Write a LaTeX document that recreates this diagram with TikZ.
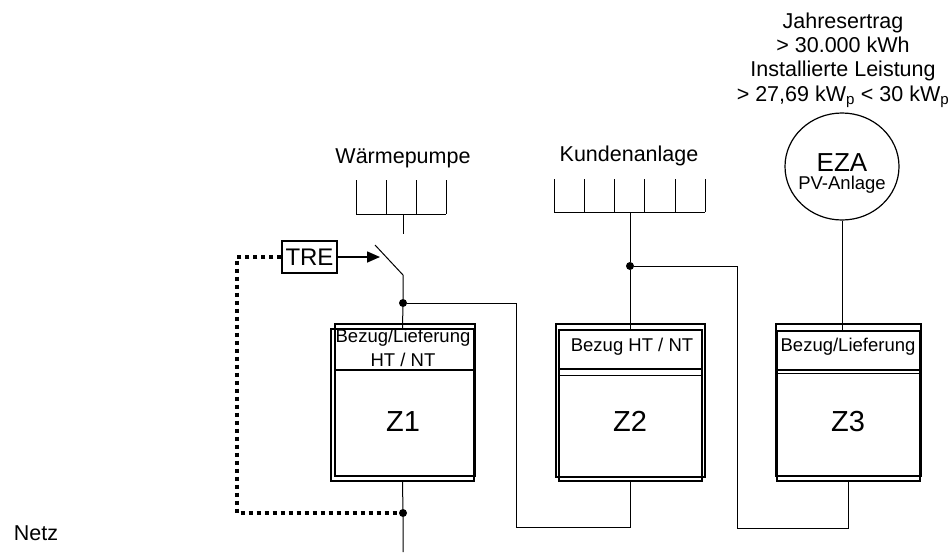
\documentclass[tikz,border=0pt]{standalone}
\usepackage{fontspec}
\setmainfont{Liberation Sans}
\usepackage{tikz}
\usetikzlibrary{positioning,shapes.geometric,arrows.meta}
\def\normaltext{\fontsize{18.5}{24.3}\selectfont}
\def\labeltext{\fontsize{21.5}{24.3}\selectfont}
\def\bigtext{\fontsize{29}{30}\selectfont}
\tikzset{
	wire/.style={line width=1pt},
	meter/.style={draw,line width=1.6pt,minimum width=143pt,inner sep=0pt},
	frame/.style={line width=1.6pt},
	jdot/.style={circle,fill,inner sep=0pt,minimum size=8pt},
	lbl/.style={inner sep=0pt,font=\normaltext,align=center},
	toplbl/.style={inner sep=0pt,font=\labeltext,align=center},
	ztext/.style={inner sep=0pt,font=\bigtext,anchor=base},
	ctrl/.style={line width=4pt,dash pattern=on 4pt off 4pt}
}

\begin{document}
\begin{tikzpicture}[x=1pt,y=-1pt]
				\useasboundingbox (0,0) rectangle (949,552);
				
				%zaehler
				\node[meter,minimum height=152pt] (z1) at (402.5,405) {};
				\draw[frame] ([shift={(5,-4)}]z1.north west) rectangle ([shift={(0,-6)}]z1.south east);
				\draw[frame] (336,370) -- (474,370);
				\node[lbl] (z1a) at (403,338) {Bezug/Lieferung};
				\node[lbl] (z1b) at (403,360) {HT / NT};
				\node[ztext] (z1t) at (403,431) {Z1};
				
				\node[meter,minimum height=151pt] (z2) at (630.5,405.5) {};
				\draw[frame] ([shift={(-2,-5)}]z2.north west) rectangle ([shift={(2,-5)}]z2.south east);
				\draw[frame] (559,369) -- (702,369);
				\draw[wire] (559,375) -- (702,375);
				\node[lbl] (z2a) at (632,347) {Bezug HT / NT};
				\node[ztext] (z2t) at (630,431) {Z2};
				
				\node[meter,minimum height=150pt] (z3) at (848.5,406) {};
				\draw[frame] ([shift={(0,-6)}]z3.north west) rectangle ([shift={(0,-6)}]z3.south east);
				\draw[frame] (777,370) -- (920,370);
				\draw[wire] (777,373) -- (920,373);
				\node[lbl] (z3a) at (848,347) {Bezug/Lieferung};
				\node[ztext] (z3t) at (848,431) {Z3};
				
				%verbraucher und erzeuger
				\node[toplbl] (wp) at (403,158) {Wärmepumpe};
				\draw[wire] (356,214) -- (446,214);
				\foreach \x in {356,386,416,446}
					\draw[wire] (\x,180) -- (\x,214);
				\coordinate (wpstem) at (403,214);
				\coordinate (swtop) at (403,234);
				\coordinate (swA) at (375,245);
				\coordinate (swB) at (403,275);
				
				\node[toplbl] (ka) at (629,156) {Kundenanlage};
				\draw[wire] (554,212) -- (705,212);
				\foreach \x in {554,584,614,644,675,705}
					\draw[wire] (\x,179) -- (\x,212);
				\coordinate (kastem) at (630,212);
				
				\node[draw,line width=1.2pt,ellipse,minimum width=114pt,minimum height=107pt] (eza) at (842,166.5) {};
				\node[inner sep=0pt,font=\fontsize{26}{28}\selectfont] (ezat) at (842,163) {EZA};
				\node[lbl] (pv) at (842,185) {PV-Anlage};
				\node[toplbl] (ertrag) at (843,60) {Jahresertrag\\ > 30.000 kWh\\ Installierte Leistung\\ > 27,69 kW\textsubscript{p} < 30 kW\textsubscript{p}};
				
				\node[toplbl] (netz) at (36,533) {Netz};
				
				%leitungen
				\node[jdot] (d1) at (403,303) {};
				\node[jdot] (d2) at (630,266) {};
				\node[jdot] (d3) at (403,513) {};
				\coordinate (netzend) at (403,552);
				
				\draw[wire] (wpstem) -- (swtop);
				\draw[wire] (swA) -- (swB) -- (d1) -- (z1.north);
				\draw[wire] (d1) -| (516,527) -| (z2.south);
				\draw[wire] (kastem) -- (d2) -- (d2 |- z2.north);
				\draw[wire] (d2) -| (737,528) -| (z3.south);
				\draw[wire] (eza.south) -- (eza.south |- z3.north);
				\draw[wire] (z1.south) -- (d3) -- (netzend);
				
				%rundsteuerempfaenger
				\node[draw,line width=1.2pt,minimum width=55pt,minimum height=32pt,inner sep=0pt,font=\fontsize{24}{26}\selectfont] (tre) at (309.5,257) {TRE};
				\coordinate (swarrow) at (380,257);
				\draw[line width=1.6pt,-{Triangle[length=13pt,width=11pt]}] (tre.east) -- (swarrow);
				\draw[ctrl] (tre.west) -| (237,513) -- (d3);
			\end{tikzpicture}
\end{document}
